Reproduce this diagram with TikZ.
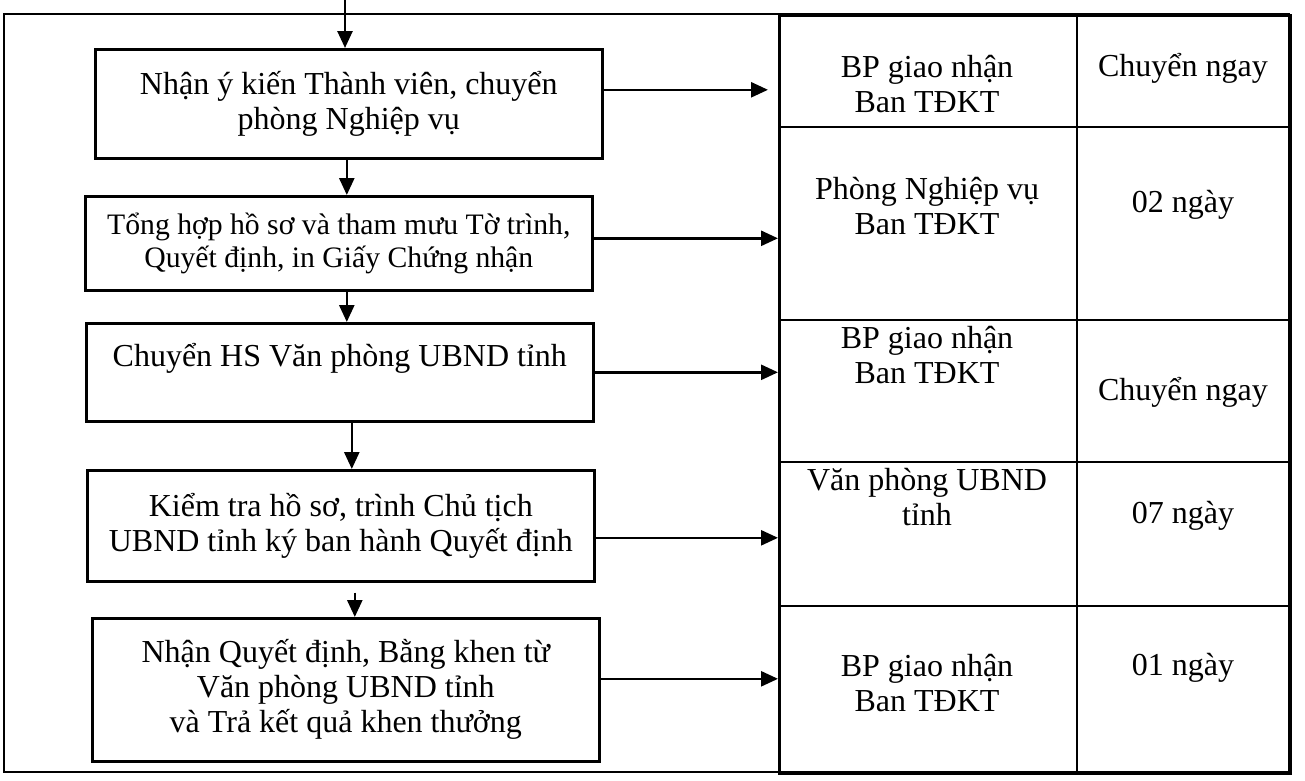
\documentclass[tikz,border=0pt]{standalone}
\usepackage{fontspec}
\setmainfont{Liberation Serif}
\usetikzlibrary{arrows.meta}

\begin{document}
\begin{tikzpicture}[x=1pt, y=-1pt, line width=2.6pt,
  >={Triangle[length=17pt,width=15pt]},
  every node/.style={align=center, font=\fontsize{32}{35}\selectfont},
  box/.style={draw, anchor=north west, inner sep=0pt, minimum width=507pt}]
\useasboundingbox (0,0) rectangle (1305,780);

% outer frame and table
\draw (4,14) rectangle (1289,772);
\node (tab) [draw, anchor=north west, inner sep=0pt, minimum width=511pt, minimum height=758pt] at (778,14) {};
\foreach \y in {127,320,462,606}
  \draw (778,\y) -- (1289,\y);
\draw (1077,14) -- (1077,772);

% steps
\coordinate (in) at (345,0);
\node (b1) [box, minimum height=109pt] at (94,48) {Nhận ý kiến Thành viên, chuyển\\phòng Nghiệp vụ};
\node (b2) [box, minimum height=94pt, font=\fontsize{29.7}{33}\selectfont] at (84,195) {Tổng hợp hồ sơ và tham mưu Tờ trình,\\Quyết định, in Giấy Chứng nhận};
\node (b3) [box, minimum height=98pt] at (85,322) {Chuyển HS Văn phòng UBND tỉnh\\\mbox{}};
\node (b4) [box, minimum height=111pt] at (86,469) {Kiểm tra hồ sơ, trình Chủ tịch\\UBND tỉnh ký ban hành Quyết định};
\node (b5) [box, minimum height=143pt] at (91,617) {Nhận Quyết định, Bằng khen từ\\Văn phòng UBND tỉnh\\và Trả kết quả khen thưởng};

% table texts
\node (u1) at (927,84) {BP giao nhận\\Ban TĐKT};
\node (d1) at (1183,68) {Chuyển ngay};
\node (u2) at (927,206) {Phòng Nghiệp vụ\\Ban TĐKT};
\node (d2) at (1183,205) {02 ngày};
\node (u3) at (927,355) {BP giao nhận\\Ban TĐKT};
\node (d3) at (1183,392) {Chuyển ngay};
\node (u4) at (927,497) {Văn phòng UBND\\tỉnh};
\node (d4) at (1183,516) {07 ngày};
\node (u5) at (927,683) {BP giao nhận\\Ban TĐKT};
\node (d5) at (1183,668) {01 ngày};

% flow
\draw[->] (in) -- (in |- b1.north);
\draw[->] ([xshift=-2pt]b1.south) -- ([xshift=-2pt]b1.south |- b2.north);
\draw[->] ([xshift=8pt]b2.south) -- ([xshift=8pt]b2.south |- b3.north);
\draw[->] ([xshift=12pt]b3.south) -- ([xshift=12pt]b3.south |- b4.north);
\draw[->] ([xshift=14pt,yshift=-10pt]b4.south) -- ([xshift=14pt]b4.south |- b5.north);

\draw[->, shorten >=10pt] ([yshift=14pt]b1.east) -- ([yshift=14pt]b1.east -| tab.west);
\draw[->] ([yshift=5pt]b2.east) -- ([yshift=5pt]b2.east -| tab.west);
\draw[->] (b3.east) -- (b3.east -| tab.west);
\draw[->] ([yshift=-12pt]b4.east) -- ([yshift=-12pt]b4.east -| tab.west);
\draw[->] ([yshift=11pt]b5.east) -- ([yshift=11pt]b5.east -| tab.west);
\end{tikzpicture}
\end{document}
